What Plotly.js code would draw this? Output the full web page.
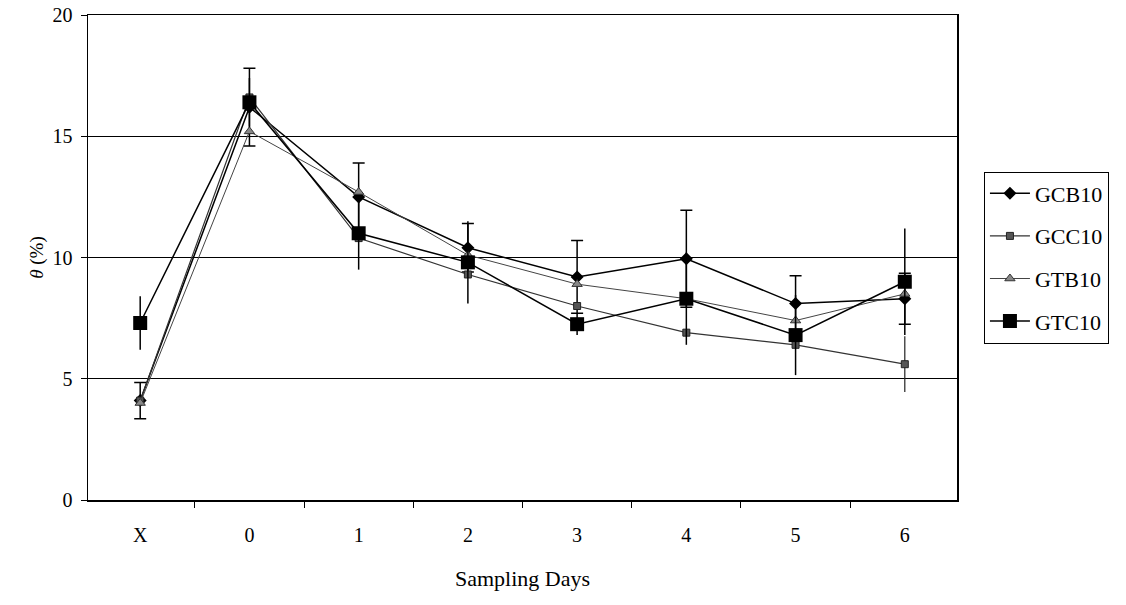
<!DOCTYPE html>
<html>
<head>
<meta charset="utf-8">
<script src="https://cdn.plot.ly/plotly-3.0.1.min.js"></script>
<style>body{margin:0;background:#fff;} #chart{width:1126px;height:605px;}</style>
</head>
<body>
<div id="chart"></div>
<script>
var categories = ["X", "0", "1", "2", "3", "4", "5", "6"];
var gcb10 = [4.1, 16.2, 12.5, 10.4, 9.2, 9.95, 8.1, 8.3];
var gcb10Err = [0.75, 1.6, 1.4, 1.0, 1.5, 2.0, 1.15, 1.05];
var gcc10 = [4.1, 16.6, 10.8, 9.3, 8.0, 6.9, 6.4, 5.6];
var gcc10Err = [0, 0, 0, 0, 0, 0, 0, 1.15];
var gtb10 = [4.0, 15.2, 12.7, 10.1, 8.9, 8.3, 7.4, 8.5];
var gtc10 = [7.3, 16.4, 11.0, 9.8, 7.25, 8.3, 6.8, 9.0];
var gtc10Err = [1.1, 1.0, 1.5, 1.7, 0.45, 1.9, 1.65, 2.2];

var traces = [
  {x: categories, y: gcb10, name: "GCB10", legendgroup: "a", type: "scatter", mode: "lines+markers",
   line: {color: "#000", width: 1.5}, marker: {symbol: "diamond", size: 10, color: "#000"},
   error_y: {type: "data", array: gcb10Err, visible: true, color: "#000", thickness: 1.5, width: 6}},
  {x: categories, y: gcc10, name: "GCC10", legendgroup: "b", type: "scatter", mode: "lines+markers",
   line: {color: "#333", width: 1.2}, marker: {symbol: "square", size: 7, color: "#555", line: {color: "#222", width: 1}},
   error_y: {type: "data", array: gcc10Err, visible: true, color: "#222", thickness: 1.2, width: 0}},
  {x: categories, y: gtb10, name: "GTB10", legendgroup: "c", type: "scatter", mode: "lines+markers",
   line: {color: "#444", width: 1}, marker: {symbol: "triangle-up", size: 9, color: "#888", line: {color: "#333", width: 1}}},
  {x: categories, y: gtc10, name: "GTC10", legendgroup: "d", type: "scatter", mode: "lines+markers",
   line: {color: "#000", width: 1.5}, marker: {symbol: "square", size: 14, color: "#000"},
   error_y: {type: "data", array: gtc10Err, visible: true, color: "#000", thickness: 1.5, width: 0}}
];

var layout = {
  width: 1126, height: 605,
  margin: {l: 88, r: 169, t: 15, b: 105},
  paper_bgcolor: "#fff", plot_bgcolor: "#fff",
  font: {family: "Liberation Serif, Times New Roman, serif", color: "#000", size: 20},
  showlegend: true,
  legend: {x: 1.031, xanchor: "left", y: 0.5, yanchor: "middle", itemwidth: 40,
    bordercolor: "#000", borderwidth: 1, font: {size: 22}, tracegroupgap: 11},
  xaxis: {type: "category", showline: true, linecolor: "#000", linewidth: 1.5, mirror: true,
    ticks: "outside", ticklen: 6, tickcolor: "#000", tickson: "boundaries", showgrid: false,
    ticklabelstandoff: 16,
    tickfont: {size: 20}, title: {text: "Sampling Days", font: {size: 22}, standoff: 26}},
  yaxis: {range: [0, 20], dtick: 5, showline: true, linecolor: "#000", linewidth: 1.5, mirror: true,
    ticks: "outside", ticklen: 6, tickcolor: "#000", showgrid: true, gridcolor: "#000", gridwidth: 1,
    zeroline: false, tickfont: {size: 20}, ticklabelstandoff: 4,
    title: {text: "<i>θ</i> (%)", font: {size: 19}, standoff: 4}}
};

Plotly.newPlot("chart", traces, layout, {staticPlot: true});
</script>
</body>
</html>
